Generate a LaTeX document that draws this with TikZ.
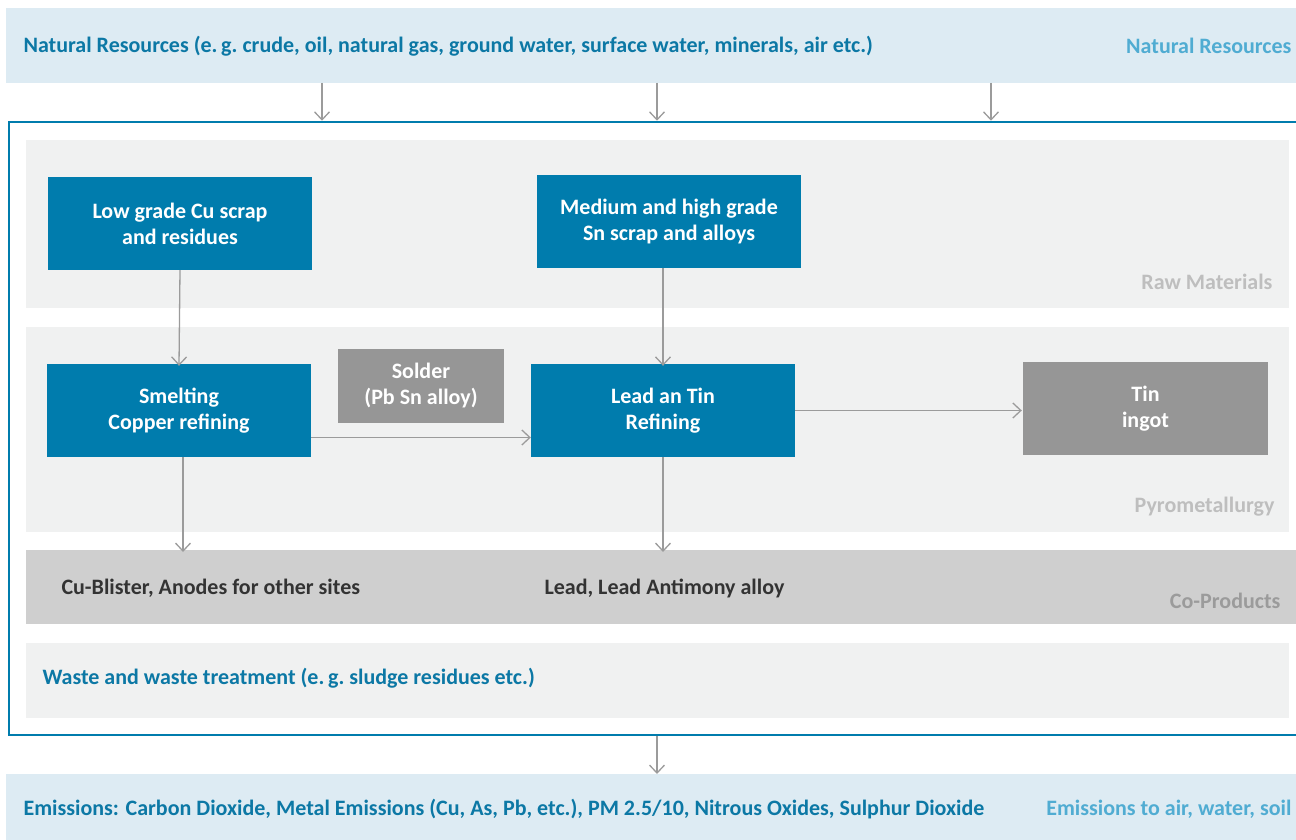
\documentclass[tikz,border=0pt]{standalone}
\usepackage{fontspec}
\setmainfont{Carlito}
\usetikzlibrary{arrows.meta}
\definecolor{umblue}{RGB}{0,124,173}
\definecolor{umtext}{RGB}{12,120,165}
\definecolor{umlight}{RGB}{80,172,210}
\definecolor{skyband}{RGB}{221,235,243}
\definecolor{paleband}{RGB}{240,241,241}
\definecolor{coband}{RGB}{207,207,207}
\definecolor{greybox}{RGB}{150,150,150}
\definecolor{arrgrey}{RGB}{155,155,155}
\definecolor{lblgrey}{RGB}{190,190,190}
\begin{document}
\begin{tikzpicture}[x=1pt,y=-1pt,font=\fontsize{22}{26}\selectfont\bfseries,align=center,
  band/.style={fill=#1,inner sep=0pt,outer sep=0pt},
  proc/.style={fill=umblue,text=white,inner sep=0pt,minimum width=264pt,minimum height=93pt},
  prod/.style={fill=greybox,text=white,inner sep=0pt},
  lbl/.style={anchor=east,text=lblgrey},
  arr/.style={draw=arrgrey,line width=1.3pt,-{Straight Barb[length=8pt,width=15pt,line width=1.3pt]}}]
  \useasboundingbox (0,0) rectangle (1296,840);
  % outer bands
  \node[band=skyband,minimum width=1290pt,minimum height=75pt] (nr) at (651,45.5){};
  \node[band=skyband,minimum width=1290pt,minimum height=70pt] (em) at (651,809){};
  \node[draw=umblue,line width=2.5pt,inner sep=0pt,minimum width=1291pt,minimum height=613pt] (frame) at (654.5,428.5){};
  % inner bands
  \node[band=paleband,minimum width=1263pt,minimum height=168pt] (raw) at (657.5,224){};
  \node[band=paleband,minimum width=1263pt,minimum height=205pt] (pyro) at (657.5,429.5){};
  \node[band=coband,minimum width=1274pt,minimum height=74pt] (cop) at (663,587){};
  \node[band=paleband,minimum width=1263pt,minimum height=75pt] (waste) at (657.5,680.5){};
  % texts of the bands
  \node[anchor=west,text=umtext] (nrtxt) at (20,46){Natural Resources (e.\,g.\ crude, oil, natural gas, ground water, surface water, minerals, air etc.)};
  \node[anchor=east,text=umlight] (nrlbl) at (1295,46){Natural Resources};
  \node[lbl] (rawlbl) at (1276,282){Raw Materials};
  \node[lbl] (pyrolbl) at (1278,507){Pyrometallurgy};
  \node[lbl,text=arrgrey] (coplbl) at (1284,601){Co-Products};
  \node[anchor=west,text=black!80] (cu) at (58,588){Cu-Blister, Anodes for other sites};
  \node[anchor=west,text=black!80] (pb) at (541,588){Lead, Lead Antimony alloy};
  \node[anchor=west,text=umtext] (wastetxt) at (39,678){Waste and waste treatment (e.\,g.\ sludge residues etc.)};
  \node[anchor=west,text=umtext] (emtxt) at (20,809){Emissions: Carbon Dioxide, Metal Emissions (Cu, As, Pb, etc.), PM 2.5/10, Nitrous Oxides, Sulphur Dioxide};
  \node[anchor=east,text=umlight] (emlbl) at (1295,809){Emissions to air, water, soil};
  % process boxes
  \node[proc] (low) at (180,223.5){Low grade Cu scrap\\and residues};
  \node[proc] (med) at (669,221.5){Medium and high grade\\Sn scrap and alloys};
  \node[proc] (smelt) at (179,410.5){Smelting\\Copper refining};
  \node[prod,minimum width=166pt,minimum height=74pt] (solder) at (421,386){Solder\\(Pb Sn alloy)};
  \node[proc] (lead) at (663,410.5){Lead an Tin\\Refining};
  \node[prod,minimum width=245pt,minimum height=93pt] (tin) at (1145.5,408.5){Tin\\ingot};
  % arrows
  \coordinate (c1) at (322,0);
  \coordinate (c2) at (657,0);
  \coordinate (c3) at (991,0);
  \draw[arr] (nr.south -| c1) -- (frame.north -| c1);
  \draw[arr] (nr.south -| c2) -- (frame.north -| c2);
  \draw[arr] (nr.south -| c3) -- (frame.north -| c3);
  \draw[arr] (low.south) -- ([yshift=-2pt]smelt.north);
  \draw[arr] (med.south -| lead.north) -- ([yshift=-2pt]lead.north);
  \draw[arr] ([yshift=-27pt]smelt.east) -- ([yshift=-27pt]lead.west);
  \draw[arr] (lead.east) -- ([xshift=-1pt]tin.west |- lead.east);
  \draw[arr] ([xshift=4pt]smelt.south) -- ([xshift=4pt,yshift=-2pt]smelt.south |- cop.north);
  \draw[arr] (lead.south) -- ([yshift=-2pt]lead.south |- cop.north);
  \draw[arr] (frame.south -| c2) -- (em.north -| c2);
\end{tikzpicture}
\end{document}
